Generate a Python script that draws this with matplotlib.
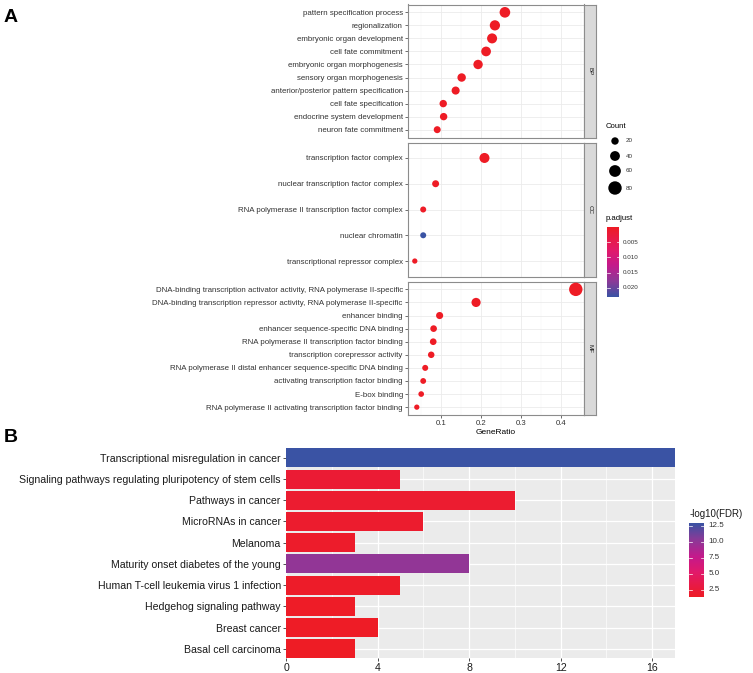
import numpy as np
import matplotlib
matplotlib.use("Agg")
import matplotlib.pyplot as plt
from matplotlib.colors import LinearSegmentedColormap, Normalize

plt.rcParams['font.family'] = ['Liberation Sans', 'DejaVu Sans']

W, H = 753, 673

# ---------------- Panel A data (top to bottom within each facet) ----------------
bp_terms = ["pattern specification process", "regionalization", "embryonic organ development",
            "cell fate commitment", "embryonic organ morphogenesis", "sensory organ morphogenesis",
            "anterior/posterior pattern specification", "cell fate specification",
            "endocrine system development", "neuron fate commitment"]
bp_ratio = [0.260, 0.235, 0.228, 0.213, 0.193, 0.152, 0.137, 0.106, 0.107, 0.091]
bp_count = [48, 44, 42, 39, 36, 28, 25, 20, 20, 17]
bp_padj = [1e-12, 1e-11, 1e-11, 1e-10, 1e-9, 1e-8, 1e-8, 1e-7, 1e-6, 1e-6]

cc_terms = ["transcription factor complex", "nuclear transcription factor complex",
            "RNA polymerase II transcription factor complex", "nuclear chromatin",
            "transcriptional repressor complex"]
cc_ratio = [0.209, 0.087, 0.056, 0.056, 0.035]
cc_count = [42, 17, 11, 11, 7]
cc_padj = [1e-9, 1e-5, 2e-4, 0.0231, 1e-4]

mf_terms = ["DNA-binding transcription activator activity, RNA polymerase II-specific",
            "DNA-binding transcription repressor activity, RNA polymerase II-specific",
            "enhancer binding", "enhancer sequence-specific DNA binding",
            "RNA polymerase II transcription factor binding", "transcription corepressor activity",
            "RNA polymerase II distal enhancer sequence-specific DNA binding",
            "activating transcription factor binding", "E-box binding",
            "RNA polymerase II activating transcription factor binding"]
mf_ratio = [0.437, 0.188, 0.097, 0.082, 0.081, 0.076, 0.061, 0.056, 0.051, 0.040]
mf_count = [80, 34, 18, 15, 15, 14, 11, 10, 9, 7]
mf_padj = [1e-30, 1e-12, 1e-8, 1e-7, 1e-7, 1e-6, 1e-5, 1e-5, 1e-4, 1e-4]

facet_labels = ["BP", "CC", "MF"]
ratio_ticks = [0.1, 0.2, 0.3, 0.4]
padj_ticks = [0.005, 0.010, 0.015, 0.020]
count_legend = [20, 40, 60, 80]

# ---------------- Panel B data (top to bottom) ----------------
kegg_terms = ["Transcriptional misregulation in cancer",
              "Signaling pathways regulating pluripotency of stem cells",
              "Pathways in cancer", "MicroRNAs in cancer", "Melanoma",
              "Maturity onset diabetes of the young",
              "Human T-cell leukemia virus 1 infection", "Hedgehog signaling pathway",
              "Breast cancer", "Basal cell carcinoma"]
kegg_count = [17, 5, 10, 6, 3, 8, 5, 3, 4, 3]
kegg_logfdr = [12.9, 2.2, 2.0, 1.9, 1.7, 10.0, 1.6, 1.5, 1.45, 1.36]
kegg_ticks = [0, 4, 8, 12, 16]
fdr_ticks = [2.5, 5.0, 7.5, 10.0, 12.5]

# ---------------- helpers ----------------
cmap = LinearSegmentedColormap.from_list(
    "rb", [(0.0, "#EE1C25"), (0.33, "#E2196A"), (0.55, "#C41A8C"),
           (0.78, "#8A3A98"), (1.0, "#3A53A4")])

fig = plt.figure(figsize=(W / 100, H / 100), dpi=100)


def ax_px(x0, y0, x1, y1, **kw):
    return fig.add_axes([x0 / W, 1 - y1 / H, (x1 - x0) / W, (y1 - y0) / H], **kw)


def size_of(c):
    r_px = np.sqrt(3.3 + 0.52 * np.asarray(c, float))
    return (2 * r_px * 0.72) ** 2


TXT = "#333333"
all_padj = bp_padj + cc_padj + mf_padj
pnorm = Normalize(vmin=min(all_padj), vmax=max(all_padj))

# ---------------- Panel A ----------------
facets = [(bp_terms, bp_ratio, bp_count, bp_padj, 4.5, 137.5),
          (cc_terms, cc_ratio, cc_count, cc_padj, 142.5, 276.5),
          (mf_terms, mf_ratio, mf_count, mf_padj, 281.5, 415)]
AX0, AX1 = 407.5, 584
for k, (terms, ratio, count, padj, y0, y1) in enumerate(facets):
    ax = ax_px(AX0, y0, AX1, y1)
    n = len(terms)
    ys = np.arange(n)[::-1]
    ax.set_xlim(0.0168, 0.4575)
    ax.set_ylim(-0.6, n - 1 + 0.6)
    ax.set_xticks(ratio_ticks)
    ax.set_xticks([0.05, 0.15, 0.25, 0.35, 0.45], minor=True)
    ax.set_yticks(ys)
    ax.set_yticklabels(terms, fontsize=5.65, color=TXT)
    ax.grid(True, which="major", color="#EBEBEB", lw=0.6)
    ax.grid(True, which="minor", axis="x", color="#F4F4F4", lw=0.35)
    ax.set_axisbelow(True)
    ax.tick_params(axis="y", length=2.2, width=0.5, pad=1.2, color="#333333")
    ax.tick_params(axis="x", which="minor", length=0)
    for s in ax.spines.values():
        s.set_color("#8C8C8C")
        s.set_linewidth(0.8)
    ax.scatter(ratio, ys, s=size_of(count), c=cmap(pnorm(padj)), edgecolors="none", zorder=3)
    if k < 2:
        ax.tick_params(axis="x", which="major", length=0, labelbottom=False)
    else:
        ax.tick_params(axis="x", which="major", length=2.2, width=0.5, pad=1.2,
                       labelsize=5.6, labelcolor=TXT, color="#333333")
        ax.set_xlabel("GeneRatio", fontsize=6, labelpad=1.5, color="black")
    # facet strip
    st = ax_px(AX1, y0, 595.5, y1)
    st.set_facecolor("#D9D9D9")
    st.set_xticks([]); st.set_yticks([])
    for s in st.spines.values():
        s.set_color("#8C8C8C")
        s.set_linewidth(0.8)
    st.text(0.5, 0.5, facet_labels[k], rotation=-90, ha="center", va="center",
            fontsize=4.5, color="#1A1A1A", transform=st.transAxes)

# ---------------- Panel B ----------------
axb = ax_px(286, 448.3, 675, 658.3)
axb.set_facecolor("#EBEBEB")
nb = len(kegg_terms)
yb = np.arange(nb)[::-1]
fnorm = Normalize(vmin=min(kegg_logfdr), vmax=max(kegg_logfdr))
axb.barh(yb, kegg_count, height=0.9, color=cmap(fnorm(kegg_logfdr)), zorder=3)
axb.set_xlim(0, 17)
axb.set_ylim(-0.45, nb - 1 + 0.45)
axb.set_xticks(kegg_ticks)
axb.set_xticks([2, 6, 10, 14], minor=True)
axb.set_yticks(yb)
axb.set_yticklabels(kegg_terms, fontsize=7.6, color="#1A1A1A")
axb.tick_params(axis="x", labelsize=7.6, labelcolor="#1A1A1A")
axb.grid(True, which="major", color="white", lw=0.9)
axb.grid(True, which="minor", axis="x", color="white", lw=0.45)
axb.set_axisbelow(True)
axb.tick_params(axis="both", which="major", length=2.2, width=0.6, pad=1.5, color="#333333")
axb.tick_params(axis="x", which="minor", length=0)
for s in axb.spines.values():
    s.set_visible(False)

# ---------------- overlay: legends & panel letters ----------------
ov = fig.add_axes([0, 0, 1, 1], facecolor="none")
ov.set_xlim(0, W)
ov.set_ylim(H, 0)
ov.set_autoscale_on(False)
ov.axis("off")

ov.text(4, 18, "A", fontsize=14, fontweight="bold", ha="left", va="center")
ov.text(4, 437, "B", fontsize=14, fontweight="bold", ha="left", va="center")

# Count legend
ov.text(606, 126, "Count", fontsize=5.6, ha="left", va="center")
for c, yy in zip(count_legend, [141, 156, 171, 188]):
    ov.scatter([615], [yy], s=size_of(c), c="black", edgecolors="none")
    ov.text(626, yy, str(c), fontsize=4.5, ha="left", va="center", color=TXT)

# p.adjust colorbar (reversed: low values at top)
ov.text(606, 219, "p.adjust", fontsize=5.6, ha="left", va="center")
pb_top, pb_bot = 227.3, 297
grad = np.linspace(pnorm.vmin, pnorm.vmax, 200).reshape(-1, 1)
ov.imshow(cmap(pnorm(grad)), extent=(607.3, 619, pb_bot, pb_top), aspect="auto",
          origin="upper", interpolation="bilinear")
for t in padj_ticks:
    yy = pb_top + (t - pnorm.vmin) / (pnorm.vmax - pnorm.vmin) * (pb_bot - pb_top)
    ov.plot([607.3, 609.6], [yy, yy], color="white", lw=0.5)
    ov.plot([616.7, 619], [yy, yy], color="white", lw=0.5)
    ov.text(623, yy, f"{t:.3f}", fontsize=4.5, ha="left", va="center", color=TXT)

# -log10(FDR) colorbar
ov.text(689.5, 514, "-log10(FDR)", fontsize=7, ha="left", va="center", color="#1A1A1A")
fb_top, fb_bot = 523.3, 597.3
grad2 = np.linspace(fnorm.vmax, fnorm.vmin, 200).reshape(-1, 1)
ov.imshow(cmap(fnorm(grad2)), extent=(689.3, 704.3, fb_bot, fb_top), aspect="auto",
          origin="upper", interpolation="bilinear")
for t in fdr_ticks:
    yy = fb_bot - (t - fnorm.vmin) / (fnorm.vmax - fnorm.vmin) * (fb_bot - fb_top)
    ov.plot([689.3, 692.3], [yy, yy], color="white", lw=0.5)
    ov.plot([701.3, 704.3], [yy, yy], color="white", lw=0.5)
    ov.text(708.5, yy, f"{t:.1f}", fontsize=5.8, ha="left", va="center", color=TXT)

fig.savefig("out.png", dpi=100)
